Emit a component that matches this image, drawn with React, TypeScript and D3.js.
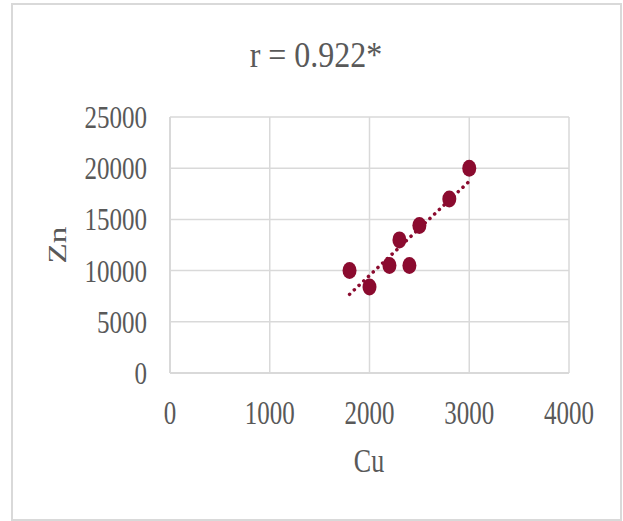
import React from "react";
import * as d3 from "d3";

const cuValues = [1800, 2000, 2200, 2300, 2400, 2500, 2800, 3000];
const znValues = [10000, 8400, 10500, 13000, 10500, 14400, 17000, 20000];
const xTicks = [0, 1000, 2000, 3000, 4000];
const yTicks = [0, 5000, 10000, 15000, 20000, 25000];
const titleText = "r = 0.922*";
const xTitle = "Cu";
const yTitle = "Zn";

const W = 623;
const H = 521;
const plot = { left: 170, right: 569, top: 117, bottom: 373 };
const FONT = "'Liberation Serif', 'Times New Roman', serif";
const TEXT = "#595959";
const GRID = "#d9d9d9";
const DOT = "#8b0b2f";

export default function App() {
  const x = d3.scaleLinear().domain([0, 4000]).range([plot.left, plot.right]);
  const y = d3.scaleLinear().domain([0, 25000]).range([plot.bottom, plot.top]);

  const mx = d3.mean(cuValues)!;
  const my = d3.mean(znValues)!;
  let sxy = 0, sxx = 0;
  cuValues.forEach((v, i) => {
    sxy += (v - mx) * (znValues[i] - my);
    sxx += (v - mx) * (v - mx);
  });
  const slope = sxy / sxx;
  const intercept = my - slope * mx;
  const xMin = d3.min(cuValues)!;
  const xMax = d3.max(cuValues)!;
  const line = d3
    .line<number>()
    .x((d) => x(d))
    .y((d) => y(intercept + slope * d));

  return (
    <svg
      width={W}
      height={H}
      style={{ position: "absolute", left: 0, top: 0, background: "#fff" }}
    >
      <rect x={12} y={4} width={609} height={516} fill="#fff" stroke={GRID} strokeWidth={2} />
      <text
        transform={`translate(316,67) scale(1,1.15)`}
        textAnchor="middle"
        fontFamily={FONT}
        fontSize={32}
        fill={TEXT}
      >
        {titleText}
      </text>
      {xTicks.map((t) => (
        <line key={"gx" + t} x1={x(t)} x2={x(t)} y1={plot.top} y2={plot.bottom} stroke={GRID} strokeWidth={1.5} />
      ))}
      {yTicks.map((t) => (
        <line key={"gy" + t} x1={plot.left} x2={plot.right} y1={y(t)} y2={y(t)} stroke={GRID} strokeWidth={1.5} />
      ))}
      <line x1={plot.left} x2={plot.right} y1={plot.bottom} y2={plot.bottom} stroke={GRID} strokeWidth={2} />
      <line x1={plot.left} x2={plot.left} y1={plot.top} y2={plot.bottom} stroke={GRID} strokeWidth={2} />
      {yTicks.map((t) => (
        <text
          key={"ty" + t}
          transform={`translate(147,${y(t) + 11}) scale(1,1.28)`}
          textAnchor="end"
          fontFamily={FONT}
          fontSize={25}
          fill={TEXT}
        >
          {t}
        </text>
      ))}
      {xTicks.map((t) => (
        <text
          key={"tx" + t}
          transform={`translate(${x(t)},424) scale(1,1.32)`}
          textAnchor="middle"
          fontFamily={FONT}
          fontSize={25}
          fill={TEXT}
        >
          {t}
        </text>
      ))}
      <text
        transform={`translate(369,472) scale(1,1.28)`}
        textAnchor="middle"
        fontFamily={FONT}
        fontSize={26}
        fill={TEXT}
      >
        {xTitle}
      </text>
      <text
        transform={`translate(66,245) scale(1,1.28) rotate(-90)`}
        textAnchor="middle"
        fontFamily={FONT}
        fontSize={26}
        fill={TEXT}
      >
        {yTitle}
      </text>
      <path
        d={line([xMin, xMax]) || ""}
        fill="none"
        stroke={DOT}
        strokeWidth={3.5}
        strokeDasharray="0.1 6.4"
        strokeLinecap="round"
      />
      {cuValues.map((v, i) => (
        <ellipse key={"p" + i} cx={x(v)} cy={y(znValues[i])} rx={7} ry={8.5} fill={DOT} />
      ))}
    </svg>
  );
}
